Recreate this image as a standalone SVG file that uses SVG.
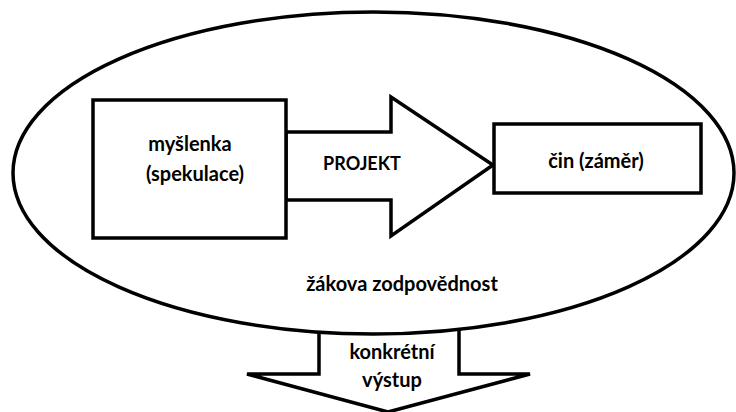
<svg xmlns="http://www.w3.org/2000/svg" width="736" height="412" viewBox="0 0 736 412">
<style>
.s{fill:#fff;stroke:#000;stroke-width:3.5;stroke-linejoin:miter}
.t{font-family:Lato,"Liberation Sans",Arial,sans-serif;font-weight:bold;font-size:20px;fill:#000;text-anchor:middle}
</style>
<rect width="736" height="412" fill="#fff"/>
<g id="connectors">
<g id="vystup-arrow">
<polygon class="s" points="319,300 459,300 459,374 530,374 388,412 247,374 319,374"/>
</g>
</g>
<g id="zodpovednost">
<ellipse class="s" cx="373.5" cy="173" rx="360.5" ry="161"/>
<text class="t" x="402" y="291">žákova zodpovědnost</text>
</g>
<g id="projekt-arrow">
<polygon class="s" points="286,132 391,132 391,97 493,165 391,236 391,200 286,200"/>
<text class="t" x="362" y="170" style="font-size:18px">PROJEKT</text>
</g>
<g id="myslenka">
<rect class="s" x="93" y="100" width="193" height="138"/>
<text class="t" x="190" y="151">myšlenka</text>
<text class="t" x="195" y="181">(spekulace)</text>
</g>
<g id="cin">
<rect class="s" x="494" y="124" width="207" height="69"/>
<text class="t" x="596" y="168">čin (záměr)</text>
</g>
<g id="vystup-label">
<text class="t" x="392" y="359">konkrétní</text>
<text class="t" x="392" y="387">výstup</text>
</g>
</svg>
